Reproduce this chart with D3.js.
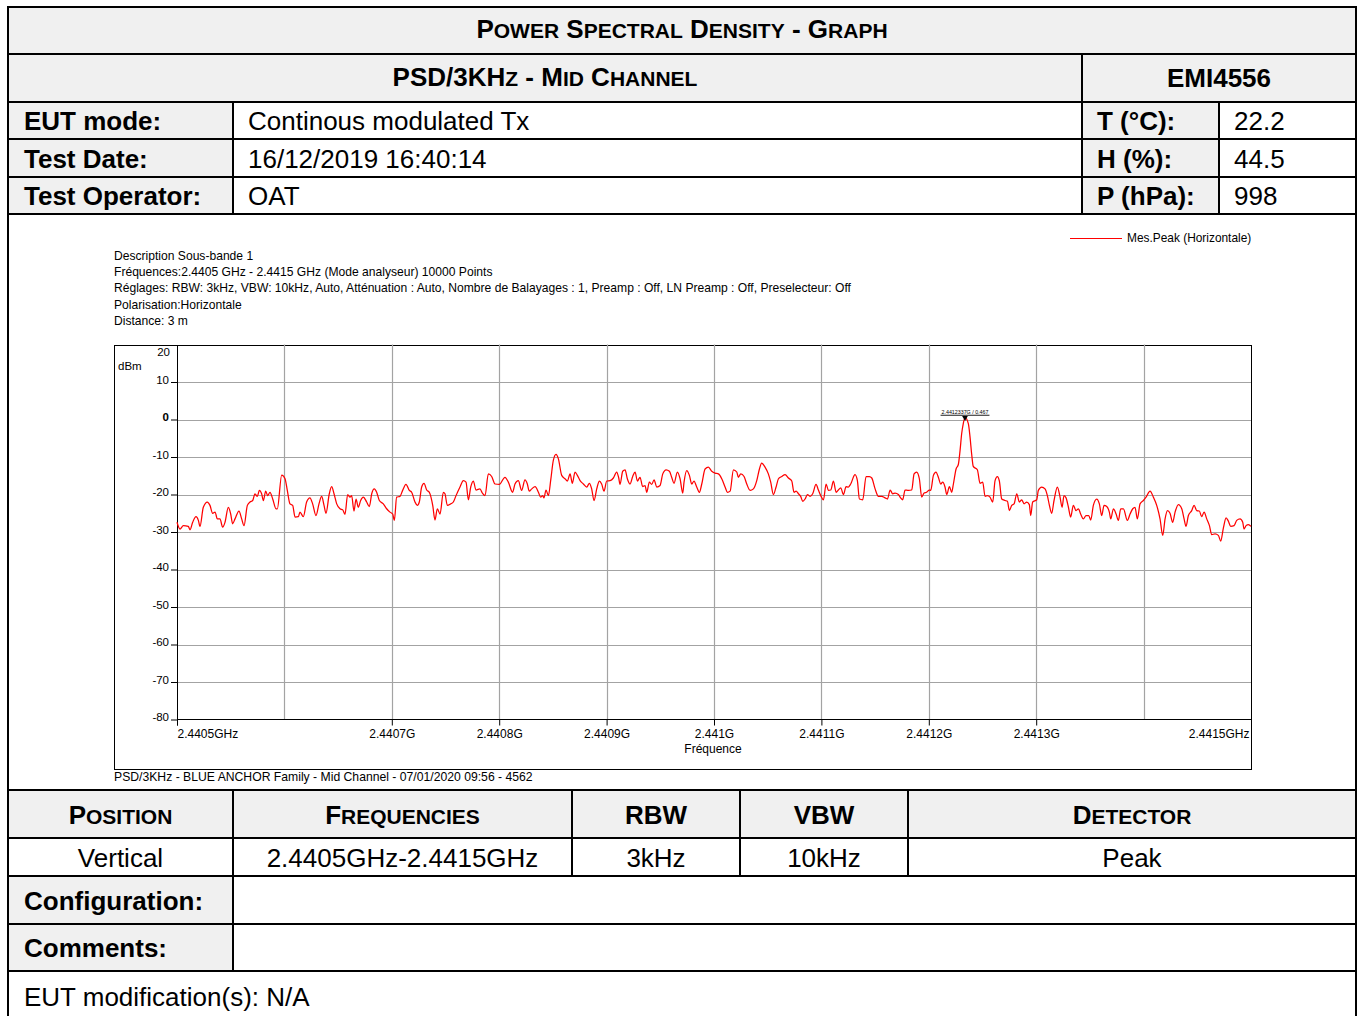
<!DOCTYPE html>
<html>
<head>
<meta charset="utf-8">
<title>Power spectral density - Graph</title>
<script src="https://cdn.jsdelivr.net/npm/d3@7"></script>
<style>
  html, body { margin: 0; padding: 0; background: #fff; }
  svg { display: block; }
  text { font-family: "Liberation Sans", Arial, Helvetica, sans-serif; fill: #000; }
</style>
</head>
<body>
<svg id="page" width="1363" height="1016"></svg>
<script>
// ---------------------------------------------------------------------------
// Measurement data
// ---------------------------------------------------------------------------
const startFreqGHz = 2.4405;
const stopFreqGHz = 2.4415;

// Trace "Mes.Peak (Horizontale)": [offset from start frequency in kHz, level in dBm]
const peakTrace = [
  [0,-27.4],[2.8,-29.2],[5.9,-28.3],[10.5,-28.5],[12.1,-29.4],[14.6,-27.4],[17.7,-25.9],[19.9,-26.9],
  [21.4,-28.5],[24.5,-23.4],[28.2,-22.0],[30.7,-22.9],[33.2,-25.0],[35.4,-24.7],[37.6,-26.5],[40.0,-26.5],
  [42.5,-28.7],[44.7,-27.4],[47.8,-23.4],[50.0,-25.2],[51.8,-27.8],[54.0,-26.5],[57.7,-24.4],[60.2,-26.5],
  [62.4,-28.3],[65.5,-22.9],[68.0,-22.0],[70.5,-21.6],[72.6,-19.8],[74.8,-20.5],[76.7,-18.9],[78.8,-19.8],
  [80.4,-21.6],[82.6,-19.1],[84.4,-20.3],[86.6,-19.4],[89.1,-21.2],[92.2,-23.8],[93.4,-23.8],[97.5,-14.8],
  [100.6,-15.8],[102.7,-18.9],[105.2,-22.5],[107.7,-22.9],[109.9,-26.0],[113.0,-25.9],[114.5,-24.7],[117.6,-25.9],
  [120.7,-22.0],[123.8,-20.9],[126.3,-22.5],[129.4,-25.6],[132.2,-22.5],[134.7,-20.5],[136.9,-22.9],[138.7,-25.0],
  [141.8,-19.8],[144.0,-17.9],[146.2,-19.8],[148.7,-22.5],[151.8,-23.8],[154.3,-24.1],[156.4,-25.3],[158.9,-20.0],
  [161.1,-20.7],[162.6,-20.3],[164.8,-24.4],[166.7,-21.2],[168.8,-23.4],[171.0,-21.6],[173.5,-20.7],[176.6,-22.0],
  [179.1,-23.2],[181.3,-19.8],[183.7,-18.5],[185.9,-19.4],[188.4,-21.6],[192.1,-22.5],[195.2,-23.8],[198.3,-24.7],
  [200.8,-25.2],[202.4,-26.9],[204.5,-20.7],[207.6,-20.5],[210.1,-18.9],[213.2,-17.3],[216.3,-18.9],[218.5,-19.4],
  [221.6,-22.0],[223.8,-22.9],[225.6,-22.0],[227.8,-18.0],[230.0,-17.0],[232.5,-18.8],[234.9,-19.4],[238.1,-22.9],
  [240.2,-26.8],[242.4,-23.8],[244.9,-25.2],[248.0,-19.4],[249.5,-19.8],[251.7,-22.9],[254.8,-22.5],[257.3,-22.0],
  [259.8,-20.3],[263.5,-18.0],[266.6,-16.3],[269.1,-16.7],[271.3,-21.4],[273.5,-18.0],[275.9,-16.4],[278.4,-18.8],
  [282.1,-18.5],[284.3,-19.6],[286.8,-20.3],[289.9,-14.5],[293.0,-15.2],[296.1,-17.2],[300.1,-17.3],[305.4,-15.4],
  [308.5,-16.7],[312.5,-19.4],[314.7,-17.2],[317.8,-16.3],[320.9,-18.9],[324.0,-16.1],[326.2,-17.2],[328.0,-19.1],
  [330.3,-18.5],[333.4,-17.9],[336.5,-19.4],[338.6,-20.7],[340.5,-20.3],[341.7,-20.9],[343.6,-18.8],[345.8,-20.3],
  [348.0,-16.1],[350.4,-10.9],[352.9,-9.3],[355.1,-10.5],[358.2,-14.9],[361.3,-15.8],[363.5,-16.4],[366.0,-14.5],
  [368.1,-17.0],[370.6,-14.0],[372.8,-14.9],[375.3,-16.3],[378.4,-17.2],[381.5,-18.0],[384.0,-17.0],[386.1,-18.5],
  [388.3,-21.6],[390.8,-18.5],[393.3,-16.4],[395.4,-17.2],[397.6,-19.1],[400.1,-16.4],[403.2,-16.3],[406.3,-15.6],
  [409.4,-14.0],[411.3,-15.6],[412.5,-17.3],[415.0,-13.8],[417.2,-13.4],[419.3,-15.8],[421.8,-17.2],[424.3,-15.2],
  [426.5,-14.0],[428.7,-16.4],[431.1,-15.4],[433.6,-17.9],[435.8,-17.6],[437.4,-19.4],[439.8,-16.7],[442.0,-17.3],
  [444.2,-16.1],[446.7,-18.0],[449.8,-17.6],[452.3,-14.5],[455.4,-13.4],[458.5,-13.8],[460.6,-15.4],[462.8,-17.0],
  [465.9,-14.0],[468.4,-15.8],[470.9,-19.6],[472.1,-16.7],[474.6,-13.6],[477.1,-14.9],[479.3,-17.2],[481.4,-16.4],
  [483.9,-18.0],[486.4,-19.4],[488.6,-17.2],[491.7,-13.2],[494.8,-12.7],[497.9,-13.8],[501.0,-14.3],[504.1,-14.5],
  [507.2,-15.8],[510.3,-18.0],[512.5,-19.4],[515.0,-19.1],[518.1,-13.4],[521.2,-14.0],[522.7,-15.4],[524.9,-14.5],
  [528.0,-15.2],[530.5,-17.2],[533.6,-18.9],[536.7,-18.5],[539.8,-16.3],[542.3,-13.2],[544.4,-11.6],[547.5,-12.7],
  [550.6,-14.5],[552.8,-16.7],[555.3,-20.0],[557.8,-18.0],[560.0,-15.8],[563.1,-15.2],[566.2,-14.7],[569.3,-15.6],
  [572.4,-16.4],[574.5,-19.4],[576.4,-19.1],[578.6,-19.8],[580.7,-20.5],[582.6,-21.8],[584.8,-21.2],[587.0,-20.0],
  [589.4,-20.5],[591.9,-19.8],[595.0,-17.3],[597.2,-18.8],[599.4,-20.3],[601.9,-21.4],[604.4,-17.2],[606.5,-18.9],
  [608.7,-18.8],[611.2,-16.4],[613.7,-19.4],[615.8,-18.8],[618.0,-18.2],[620.5,-20.0],[623.0,-17.9],[625.1,-18.0],
  [627.3,-17.2],[631.3,-14.7],[633.5,-16.3],[635.4,-21.2],[638.5,-21.4],[641.6,-15.2],[644.7,-15.2],[646.9,-15.6],
  [650.0,-18.5],[653.1,-20.5],[656.2,-20.5],[659.3,-20.9],[661.5,-21.2],[664.0,-18.8],[666.4,-19.8],[668.6,-19.6],
  [671.7,-20.0],[673.8,-20.9],[675.7,-21.4],[677.9,-18.8],[681.0,-18.9],[684.1,-18.8],[686.3,-14.5],[688.7,-14.0],
  [691.2,-15.8],[693.4,-20.7],[695.6,-19.6],[698.0,-19.4],[700.5,-18.8],[701.8,-18.9],[704.3,-14.9],[706.7,-14.0],
  [708.9,-15.4],[711.1,-17.2],[712.9,-16.7],[715.1,-18.0],[716.7,-20.0],[719.2,-17.9],[721.3,-19.4],[722.9,-17.2],
  [725.4,-13.2],[727.5,-12.0],[729.1,-8.3],[730.6,-3.8],[732.1,-1.1],[733.7,0.467],[736.8,-1.1],[738.4,-4.7],
  [739.9,-9.2],[741.4,-12.5],[745.2,-13.4],[747.7,-17.0],[750.2,-16.7],[752.4,-20.5],[754.5,-20.3],[757.0,-20.7],
  [759.5,-22.0],[761.7,-16.3],[763.8,-15.2],[765.7,-16.4],[767.9,-21.2],[771.0,-21.6],[773.2,-21.8],[775.0,-24.3],
  [777.2,-22.9],[779.4,-22.5],[781.9,-19.8],[784.3,-22.0],[786.5,-21.4],[788.7,-22.5],[791.2,-22.0],[793.6,-22.7],
  [794.9,-25.6],[796.7,-22.0],[800.5,-21.4],[802.0,-18.9],[805.1,-18.0],[808.2,-18.5],[810.4,-20.3],[812.3,-22.9],
  [814.4,-25.0],[816.6,-21.6],[819.7,-18.0],[822.2,-20.7],[824.1,-23.4],[825.9,-20.3],[827.8,-20.9],[830.0,-23.4],
  [832.1,-26.0],[834.6,-22.9],[837.1,-24.3],[839.3,-23.8],[841.4,-25.2],[843.9,-26.5],[846.4,-25.6],[848.9,-25.6],
  [850.8,-26.8],[853.2,-22.9],[856.3,-21.2],[858.8,-22.5],[861.0,-25.6],[863.2,-22.9],[865.7,-23.2],[868.1,-24.7],
  [869.4,-26.5],[871.9,-23.8],[874.4,-25.2],[876.5,-26.9],[878.7,-23.8],[881.2,-23.8],[884.9,-26.9],[887.4,-25.2],
  [889.9,-23.8],[892.0,-23.4],[894.2,-26.5],[896.7,-22.5],[899.8,-21.6],[902.3,-20.7],[906.0,-19.1],[909.1,-20.7],
  [912.2,-22.9],[915.3,-26.5],[917.8,-30.9],[920.0,-26.5],[922.2,-24.3],[924.6,-25.0],[927.1,-27.4],[929.3,-24.7],
  [932.4,-22.7],[935.5,-23.8],[937.7,-26.5],[939.5,-28.5],[941.7,-25.6],[944.8,-24.3],[947.0,-22.9],[949.5,-24.3],
  [951.9,-24.4],[954.1,-25.9],[956.3,-24.7],[958.8,-26.5],[961.3,-28.3],[963.4,-30.7],[966.5,-30.5],[969.6,-30.9],
  [971.8,-32.4],[974.3,-28.9],[976.8,-26.2],[978.9,-27.1],[981.1,-28.5],[984.2,-28.3],[986.7,-26.9],[989.8,-26.5],
  [992.3,-27.4],[993.5,-29.2],[995.4,-28.3],[997.6,-28.0],[1000,-28.5]
];

// Peak marker
const markerFreqGHz = 2.4412337;
const markerLevelDbm = 0.467;
const markerLabel = "2.4412337G / 0.467";

// Axes
const yDomain = [-80, 20];
const yTickValues = [20, 10, 0, -10, -20, -30, -40, -50, -60, -70, -80];
const yGridValues = [10, 0, -10, -20, -30, -40, -50, -60, -70];
const xTickValues = [2.4405, 2.4407, 2.4408, 2.4409, 2.4410, 2.4411, 2.4412, 2.4413, 2.4415];
const xTickLabels = ["2.4405GHz", "2.4407G", "2.4408G", "2.4409G", "2.441G", "2.4411G", "2.4412G", "2.4413G", "2.4415GHz"];
const xGridValues = [2.4406, 2.4407, 2.4408, 2.4409, 2.4410, 2.4411, 2.4412, 2.4413, 2.4414];

// Chart annotations
const descriptionLines = [
  "Description Sous-bande 1",
  "Fréquences:2.4405 GHz - 2.4415 GHz (Mode analyseur) 10000 Points",
  "Réglages: RBW: 3kHz, VBW: 10kHz, Auto, Atténuation : Auto, Nombre de Balayages : 1, Preamp : Off, LN Preamp : Off, Preselecteur: Off",
  "Polarisation:Horizontale",
  "Distance: 3 m"
];
const legendLabel = "Mes.Peak (Horizontale)";
const yUnitLabel = "dBm";
const xAxisTitle = "Fréquence";
const chartFooter = "PSD/3KHz - BLUE ANCHOR Family - Mid Channel - 07/01/2020 09:56 - 4562";

// Report sheet texts
const sheetTitle = "Power Spectral Density - Graph";
const sheetSubtitle = "PSD/3KHz - Mid Channel";
const reportId = "EMI4556";
const infoLabels = ["EUT mode:", "Test Date:", "Test Operator:"];
const infoValues = ["Continous modulated Tx", "16/12/2019 16:40:14", "OAT"];
const envLabels = ["T (°C):", "H (%):", "P (hPa):"];
const envValues = ["22.2", "44.5", "998"];
const settingHeaders = ["Position", "Frequencies", "RBW", "VBW", "Detector"];
const settingValues = ["Vertical", "2.4405GHz-2.4415GHz", "3kHz", "10kHz", "Peak"];
const remarkLabels = ["Configuration:", "Comments:"];
const modificationNote = "EUT modification(s): N/A";

// ---------------------------------------------------------------------------
// Drawing
// ---------------------------------------------------------------------------
const svg = d3.select("#page");
const SHADE = "#f0f0f0";
const FONT = '"Liberation Sans", Arial, sans-serif';

// Sheet geometry
const sheetL = 8, sheetR = 1356;
const rowY = { top: 7, r2: 54, r3: 102, r4: 139, r5: 177, chartTop: 214, chartBottom: 790,
               b2: 838, b3: 876, b4: 924, b5: 971, bottom: 1030 };
const infoCols = [sheetL, 233, 1082, 1219, sheetR];
const settingCols = [sheetL, 233, 572, 740, 908, sheetR];

const bg = svg.append("g");
const ink = svg.append("g");
const lines = svg.append("g").attr("stroke", "#000").attr("stroke-width", 2).attr("fill", "none");

function shade(x0, y0, x1, y1) {
  bg.append("rect").attr("x", x0).attr("y", y0).attr("width", x1 - x0).attr("height", y1 - y0).attr("fill", SHADE);
}
function hline(y, x0 = sheetL, x1 = sheetR) {
  lines.append("line").attr("x1", x0).attr("x2", x1).attr("y1", y).attr("y2", y);
}
function vline(x, y0, y1) {
  lines.append("line").attr("x1", x).attr("x2", x).attr("y1", y0).attr("y2", y1);
}
// Lower-case letters are set as reduced capitals (small caps)
function smallCaps(x, y, str, big, small, anchor = "middle") {
  const t = ink.append("text").attr("x", x).attr("y", y).attr("text-anchor", anchor)
    .attr("font-weight", "bold").attr("font-size", big);
  const runs = [];
  for (const ch of str) {
    const isSmall = ch !== ch.toUpperCase();
    const last = runs[runs.length - 1];
    if (last && last.small === isSmall) last.t += ch; else runs.push({ small: isSmall, t: ch });
  }
  runs.forEach(r => t.append("tspan").attr("font-size", r.small ? small : big)
    .text(r.small ? r.t.toUpperCase() : r.t));
  return t;
}
function label(x, y, str, opts = {}) {
  return ink.append("text").attr("x", x).attr("y", y)
    .attr("text-anchor", opts.anchor || "start")
    .attr("font-size", opts.size || 26)
    .attr("font-weight", opts.bold ? "bold" : "normal")
    .text(str);
}

// Header block
shade(sheetL, rowY.top, sheetR, rowY.r3);
smallCaps((sheetL + sheetR) / 2, 38, sheetTitle, 26, 21);
smallCaps((infoCols[0] + infoCols[2]) / 2, 86, sheetSubtitle, 26, 21);
label((infoCols[2] + infoCols[4]) / 2, 86.5, reportId, { anchor: "middle", bold: true });

const infoRows = [rowY.r3, rowY.r4, rowY.r5, rowY.chartTop];
for (let i = 0; i < 3; i++) {
  const y0 = infoRows[i], y1 = infoRows[i + 1];
  const base = (y0 + y1) / 2 + 9.5;
  shade(infoCols[0], y0, infoCols[1], y1);
  shade(infoCols[2], y0, infoCols[3], y1);
  label(infoCols[0] + 16, base, infoLabels[i], { bold: true });
  label(infoCols[1] + 15, base, infoValues[i]);
  label(infoCols[2] + 15, base, envLabels[i], { bold: true });
  label(infoCols[3] + 15, base, envValues[i]);
}

// Settings block
shade(sheetL, rowY.chartBottom, sheetR, rowY.b2);
for (let i = 0; i < 5; i++) {
  const cx = (settingCols[i] + settingCols[i + 1]) / 2;
  smallCaps(cx, 823.5, settingHeaders[i], 26, 21);
  label(cx, 866.5, settingValues[i], { anchor: "middle" });
}
const remarkRows = [rowY.b3, rowY.b4, rowY.b5];
for (let i = 0; i < 2; i++) {
  shade(sheetL, remarkRows[i], settingCols[1], remarkRows[i + 1]);
  label(sheetL + 16, (remarkRows[i] + remarkRows[i + 1]) / 2 + 9.5, remarkLabels[i], { bold: true });
}
label(sheetL + 16, 1006, modificationNote);

// Rules of the sheet
[rowY.top, rowY.r2, rowY.r3, rowY.r4, rowY.r5, rowY.chartTop, rowY.chartBottom,
 rowY.b2, rowY.b3, rowY.b4, rowY.b5].forEach(y => hline(y));
vline(sheetL, rowY.top - 1, rowY.bottom);
vline(sheetR, rowY.top - 1, rowY.bottom);
vline(infoCols[2], rowY.r2, rowY.chartTop);
vline(infoCols[1], rowY.r3, rowY.chartTop);
vline(infoCols[3], rowY.r3, rowY.chartTop);
vline(settingCols[1], rowY.chartBottom, rowY.b5);
[2, 3, 4].forEach(i => vline(settingCols[i], rowY.chartBottom, rowY.b3));

// ---------------------------------------------------------------------------
// Spectrum chart
// ---------------------------------------------------------------------------
const plot = { left: 177, right: 1251, top: 344.5, bottom: 719.5 };
const frame = { left: 114.5, right: 1251.5, top: 345.5, bottom: 769.5 };
const chart = svg.append("g").attr("font-family", FONT);

const x = d3.scaleLinear().domain([startFreqGHz, stopFreqGHz]).range([plot.left, plot.right]);
const y = d3.scaleLinear().domain(yDomain).range([plot.bottom, plot.top]);

// Description block and legend
chart.append("g").selectAll("text").data(descriptionLines).join("text")
  .attr("x", 114).attr("y", (d, i) => 259.5 + i * 16.35)
  .attr("font-size", 12.1).text(d => d);

chart.append("line").attr("x1", 1070).attr("x2", 1122).attr("y1", 238.5).attr("y2", 238.5)
  .attr("stroke", "#ff0000").attr("stroke-width", 1);
chart.append("text").attr("x", 1127).attr("y", 241.5).attr("font-size", 11.9).text(legendLabel);

// Outer frame
chart.append("rect").attr("x", frame.left).attr("y", frame.top)
  .attr("width", frame.right - frame.left).attr("height", frame.bottom - frame.top)
  .attr("fill", "none").attr("stroke", "#000").attr("stroke-width", 1);

// Grid
const grid = chart.append("g").attr("stroke", "#a3a3a3").attr("stroke-width", 1.2);
grid.selectAll(".gx").data(xGridValues).join("line")
  .attr("x1", d => Math.round(x(d)) + 0.5).attr("x2", d => Math.round(x(d)) + 0.5)
  .attr("y1", plot.top).attr("y2", plot.bottom);
grid.selectAll(".gy").data(yGridValues).join("line")
  .attr("x1", plot.left).attr("x2", plot.right)
  .attr("y1", d => Math.round(y(d)) + 0.5).attr("y2", d => Math.round(y(d)) + 0.5);

// Y axis
const yAxis = chart.append("g").attr("transform", `translate(${plot.left},0)`)
  .call(d3.axisLeft(y).tickValues(yTickValues).tickFormat(d => String(d)).tickSize(6).tickPadding(2));
yAxis.select(".domain").remove();
yAxis.selectAll(".tick text").attr("font-size", 11.5).attr("fill", "#000")
  .attr("font-family", FONT)
  .attr("dy", "0.1em")
  .attr("font-weight", d => d === 0 ? "bold" : "normal");
yAxis.selectAll(".tick").filter(d => d === yDomain[1]).each(function () {
  d3.select(this).select("line").remove();
  d3.select(this).select("text").attr("dy", "0.95em").attr("x", -7);
});
chart.append("line").attr("x1", plot.left + 0.5).attr("x2", plot.left + 0.5)
  .attr("y1", frame.top).attr("y2", plot.bottom + 6).attr("stroke", "#000");
chart.append("text").attr("x", 118).attr("y", 370).attr("font-size", 11.5).text(yUnitLabel);

// X axis
const xAxis = chart.append("g").attr("transform", `translate(0,${plot.bottom})`)
  .call(d3.axisBottom(x).tickValues(xTickValues).tickFormat((d, i) => xTickLabels[i])
    .tickSize(6).tickPadding(4));
xAxis.select(".domain").remove();
xAxis.selectAll(".tick text").attr("font-size", 12).attr("fill", "#000")
  .attr("font-family", FONT);
xAxis.selectAll(".tick").filter((d, i) => i === 0).select("text").attr("text-anchor", "start");
xAxis.selectAll(".tick").filter((d, i) => i === xTickValues.length - 1).select("text")
  .attr("text-anchor", "end").attr("x", -2);
chart.append("line").attr("x1", plot.left).attr("x2", plot.right)
  .attr("y1", plot.bottom).attr("y2", plot.bottom).attr("stroke", "#000");
chart.append("text").attr("x", (plot.left + plot.right) / 2 - 1).attr("y", 753)
  .attr("text-anchor", "middle").attr("font-size", 12).text(xAxisTitle);

chart.append("text").attr("x", 114).attr("y", 781).attr("font-size", 12.2).text(chartFooter);

// Trace
const line = d3.line()
  .x(d => x(startFreqGHz + d[0] * 1e-6))
  .y(d => y(d[1]))
  .curve(d3.curveMonotoneX);
chart.append("path").datum(peakTrace)
  .attr("d", line).attr("fill", "none")
  .attr("stroke", "#ff0000").attr("stroke-width", 1.25).attr("stroke-linejoin", "round");

// Peak marker
const mx = x(markerFreqGHz), my = y(markerLevelDbm);
chart.append("path")
  .attr("d", d3.symbol(d3.symbolTriangle, 14)())
  .attr("transform", `translate(${mx},${my}) rotate(180)`)
  .attr("fill", "#000");
const mLabel = chart.append("text").attr("x", mx).attr("y", my - 4)
  .attr("text-anchor", "middle").attr("font-size", 5.3).text(markerLabel);
const bb = mLabel.node().getBBox();
chart.append("line").attr("x1", bb.x - 1).attr("x2", bb.x + bb.width + 1)
  .attr("y1", my - 2.5).attr("y2", my - 2.5).attr("stroke", "#000").attr("stroke-width", 0.9);
</script>
</body>
</html>
